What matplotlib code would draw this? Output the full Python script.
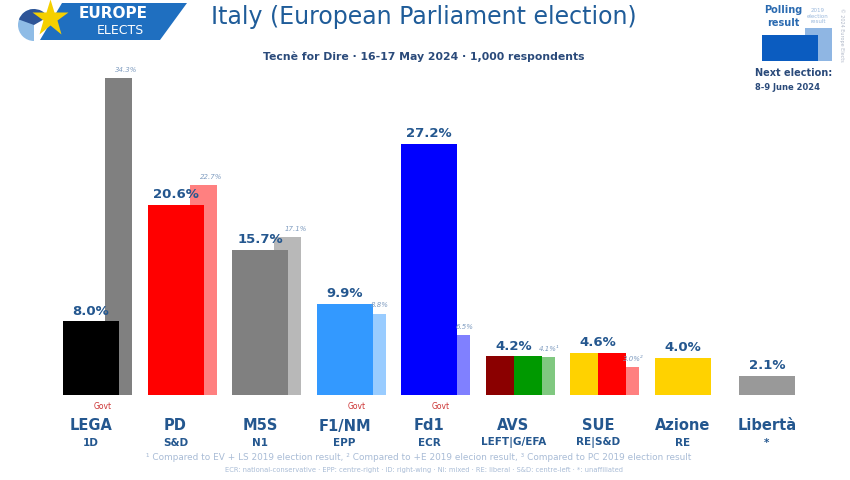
import matplotlib
matplotlib.use("Agg")
import matplotlib.pyplot as plt
from matplotlib.patches import Polygon, Rectangle, Wedge
import numpy as np

# ---------------- data ----------------
parties = ["LEGA", "PD", "M5S", "F1/NM", "Fd1", "AVS", "SUE", "Azione", "Libertà"]
groups = ["1D", "S&D", "N1", "EPP", "ECR", "LEFT|G/EFA", "RE|S&D", "RE", "*"]
poll = [8.0, 20.6, 15.7, 9.9, 27.2, 4.2, 4.6, 4.0, 2.1]
prev = [34.3, 22.7, 17.1, 8.8, 6.5, 4.1, 3.0, None, None]
prev_marks = ["", "", "", "", "", "¹", "²", "", ""]
govt = [True, False, False, True, True, False, False, False, False]
main_colors = [["#000000"], ["#ff0000"], ["#808080"], ["#3399ff"], ["#0000ff"],
               ["#8b0000", "#009900"], ["#ffd200", "#ff0000"], ["#ffd200"], ["#999999"]]
prev_colors = ["#808080", "#ff8080", "#b8b8b8", "#99ccff", "#8080ff",
               "#80c880", "#ff8080", None, None]

title = "Italy (European Parliament election)"
subtitle = "Tecnè for Dire · 16-17 May 2024 · 1,000 respondents"
foot1 = "¹ Compared to EV + LS 2019 election result, ² Compared to +E 2019 elecion result, ³ Compared to PC 2019 election result"
foot2 = "ECR: national-conservative · EPP: centre-right · ID: right-wing · NI: mixed · RE: liberal · S&D: centre-left · *: unaffiliated"

NARROW = ["Liberation Sans Narrow", "DejaVu Sans"]

W, H = 850, 481
fig = plt.figure(figsize=(W / 100, H / 100), dpi=100)
fig.patch.set_facecolor("white")

def fx(x):
    return x / W

def fy(y):
    return 1 - y / H

left_px, right_px = 48.75, 809.25
base_px, top_px = 396, 396 - 35 * 9.23
ax = fig.add_axes([fx(left_px), fy(base_px), (right_px - left_px) / W, (base_px - top_px) / H])
ax.set_xlim(-0.5, 8.5)
ax.set_ylim(0, 35)
ax.axis("off")

unit = 84.5
mw = 56 / unit
pw = 27 / unit
poff = 14 / unit
loff = 8 / unit

dark_blue = "#24578f"
x = np.arange(len(parties))
for i in x:
    if prev[i] is not None:
        ax.bar(i + poff, prev[i], width=pw, align="edge", color=prev_colors[i], zorder=1)
        ax.text(i + poff + pw / 2 + loff, prev[i] + 0.7, f"{prev[i]:.1f}%{prev_marks[i]}",
                ha="center", va="bottom", fontsize=5, style="italic", color="#7f9cc0",
                family=NARROW, zorder=3)
    cols = main_colors[i]
    seg = mw / len(cols)
    for k, c in enumerate(cols):
        ax.bar(i - mw / 2 + k * seg, poll[i], width=seg, align="edge", color=c, zorder=2)
    ax.text(i, poll[i] + 0.5, f"{poll[i]:.1f}%", ha="center", va="bottom",
            fontsize=9.5, fontweight="bold", color=dark_blue, family=NARROW, zorder=3)

for i in x:
    cx = 91 + unit * i
    if govt[i]:
        fig.text(fx(cx + 12), fy(407), "Govt", ha="center", va="center", fontsize=5.5,
                 color="#cc3333", family=NARROW)
    fig.text(fx(cx), fy(426), parties[i], ha="center", va="center", fontsize=10.5,
             fontweight="bold", color=dark_blue, family=NARROW)
    fig.text(fx(cx), fy(443), groups[i], ha="center", va="center", fontsize=7.5,
             fontweight="bold", color=dark_blue, family=NARROW)

fig.text(fx(419), fy(458), foot1, ha="center", va="center", fontsize=6.4, color="#a9bcd6",
         family=NARROW)
fig.text(fx(424), fy(470), foot2, ha="center", va="center", fontsize=4.9, color="#a9bcd6",
         family=NARROW)

fig.text(fx(424), fy(17), title, ha="center", va="center", fontsize=17, color="#1f5c99")
fig.text(fx(424), fy(57), subtitle, ha="center", va="center", fontsize=7.8,
         fontweight="bold", color="#2a4a7a", family=NARROW)

# logo
logo_ax = fig.add_axes([0, 0, 1, 1], zorder=-1)
logo_ax.set_xlim(0, W)
logo_ax.set_ylim(H, 0)
logo_ax.axis("off")
logo_ax.add_patch(Polygon([[62, 4], [187, 4], [160, 41], [40, 41]], closed=True,
                          facecolor="#1f6fc0", edgecolor="none"))
logo_ax.add_patch(Wedge((34, 26), 16, 90, 270, facecolor="#8fbce6", edgecolor="none"))
logo_ax.add_patch(Wedge((34, 26), 16, 200, 330, facecolor="#2e5597", edgecolor="none"))
logo_ax.plot([50], [19], marker="*", markersize=28, color="#f5d000", markeredgecolor="none")
logo_ax.text(113, 14, "EUROPE", ha="center", va="center", fontsize=11, color="white",
             fontweight="bold", family=NARROW)
logo_ax.text(120, 31, "ELECTS", ha="center", va="center", fontsize=9, color="white",
             family=NARROW)

# legend top right
logo_ax.add_patch(Rectangle((805, 29), 27, 33, facecolor="#8fb6e3", edgecolor="none"))
logo_ax.add_patch(Rectangle((762, 36), 56, 26, facecolor="#0b5cc0", edgecolor="none"))
logo_ax.text(783, 10, "Polling", ha="center", va="center", fontsize=7, fontweight="bold",
             color="#2a6ab0", family=NARROW)
logo_ax.text(783, 23, "result", ha="center", va="center", fontsize=7, fontweight="bold",
             color="#2a6ab0", family=NARROW)
logo_ax.text(818, 16, "2019\nelection\nresult", ha="center", va="center", fontsize=4,
             color="#9ab8dc", linespacing=1.1, family=NARROW)
logo_ax.text(755, 73, "Next election:", ha="left", va="center", fontsize=7,
             fontweight="bold", color="#2a4a7a", family=NARROW)
logo_ax.text(755, 87, "8-9 June 2024", ha="left", va="center", fontsize=6,
             fontweight="bold", color="#2a4a7a", family=NARROW)
logo_ax.text(842, 35, "© 2024 Europe Elects", ha="center", va="center", fontsize=3.5,
             rotation=270, color="#b0b8c8", family=NARROW)

fig.savefig("out.png", dpi=100, facecolor="white")
